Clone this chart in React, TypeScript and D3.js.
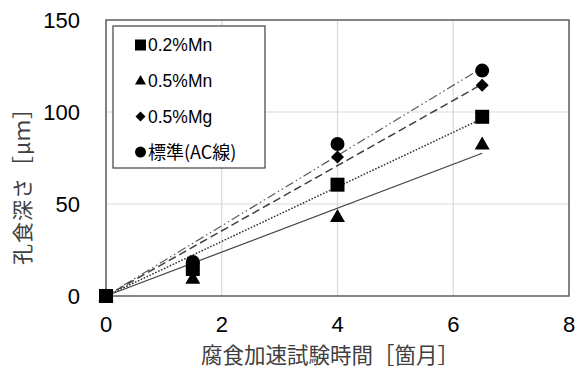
import React from "react";
import * as d3 from "d3";

const months = [0, 1.5, 4, 6.5];
const mn02 = [0, 14.7, 60.5, 97.4];
const mn05 = [0, 9.5, 43, 82.4];
const mg05 = [0, 17, 75.5, 114.5];
const standard = [0, 18.5, 82.6, 122.5];
const seriesNames = ["0.2%Mn", "0.5%Mn", "0.5%Mg", "標準(AC線)"];
const xTicks = [0, 2, 4, 6, 8];
const yTicks = [0, 50, 100, 150];
const xTitle = "腐食加速試験時間［箇月］";
const yTitle = "孔食深さ［μｍ］";

const W = 580, H = 376;
const L = 106, R = 569, T = 20, B = 296;

type Kind = "square" | "triangle" | "diamond" | "circle";

function markerPath(kind: Kind, s: number): string {
  if (kind === "square") return d3.symbol(d3.symbolSquare, s * s)()!;
  if (kind === "circle") return d3.symbol(d3.symbolCircle, Math.PI * (s / 2) * (s / 2))()!;
  if (kind === "triangle") {
    const h = s * 0.87;
    return `M0,${-h * 0.6}L${s / 2},${h * 0.4}L${-s / 2},${h * 0.4}Z`;
  }
  const r = s / 2;
  return `M0,${-r}L${r},0L0,${r}L${-r},0Z`;
}

function slopeThroughOrigin(xs: number[], ys: number[]) {
  let sxy = 0, sxx = 0;
  xs.forEach((x, i) => { sxy += x * ys[i]; sxx += x * x; });
  return sxy / sxx;
}

export default function App() {
  const x = d3.scaleLinear().domain([0, 8]).range([L, R]);
  const y = d3.scaleLinear().domain([0, 150]).range([B, T]);

  const series = [
    { name: seriesNames[0], values: mn02, kind: "square" as Kind, dash: "1.6,1.6", color: "#333", width: 1.5, ms: 14 },
    { name: seriesNames[1], values: mn05, kind: "triangle" as Kind, dash: "", color: "#404040", width: 1.2, ms: 15 },
    { name: seriesNames[2], values: mg05, kind: "diamond" as Kind, dash: "8,4", color: "#404040", width: 1.5, ms: 13 },
    { name: seriesNames[3], values: standard, kind: "circle" as Kind, dash: "9,3,1.5,3,1.5,3", color: "#5a5a5a", width: 1.2, ms: 14 },
  ];

  const xMax = d3.max(months)!;
  const line = d3.line<[number, number]>().x(d => x(d[0])).y(d => y(d[1]));

  const cjk = "'Noto Sans CJK JP', sans-serif";
  const latin = "'Liberation Sans', Arial, sans-serif";

  return (
    <div style={{ position: "fixed", left: 0, top: 0 }}>
      <svg width={W} height={H} style={{ display: "block", background: "#fff" }}>
        <rect x={0} y={0} width={W} height={H} fill="#fff" />
        {yTicks.map(t => (
          <line key={"gy" + t} x1={L} x2={R} y1={y(t)} y2={y(t)} stroke="#d9d9d9" strokeWidth={1.2} />
        ))}
        {xTicks.map(t => (
          <line key={"gx" + t} x1={x(t)} x2={x(t)} y1={T} y2={B} stroke="#d9d9d9" strokeWidth={1.2} />
        ))}
        <rect x={L} y={T} width={R - L} height={B - T} fill="none" stroke="#595959" strokeWidth={1.4} />

        {series.map(s => {
          const k = slopeThroughOrigin(months, s.values);
          return (
            <path key={"t" + s.name} d={line([[0, 0], [xMax, k * xMax]])!} fill="none"
              stroke={s.color} strokeWidth={s.width} strokeDasharray={s.dash || undefined} />
          );
        })}

        {series.map(s => (
          <g key={"m" + s.name}>
            {s.values.map((v, i) => (
              <path key={i} d={markerPath(s.kind, s.ms)} transform={`translate(${x(months[i])},${y(v)})`} fill="#000" />
            ))}
          </g>
        ))}

        {yTicks.map(t => (
          <text key={"yl" + t} x={80} y={y(t)} dy="0.36em" textAnchor="end" fontFamily={latin} fontSize={22} fill="#000">{t}</text>
        ))}
        {xTicks.map(t => (
          <text key={"xl" + t} x={x(t)} y={324} dy="0.36em" textAnchor="middle" fontFamily={latin} fontSize={22} fill="#000">{t}</text>
        ))}

        <text x={330} y={355} dy="0.36em" textAnchor="middle" fontFamily={cjk} fontSize={21.5} fill="#404040">{xTitle}</text>
        <text transform={`translate(22,181) rotate(-90)`} dy="0.36em" textAnchor="middle" fontFamily={cjk} fontSize={21} letterSpacing={1} fill="#404040">{yTitle}</text>

        <rect x={113} y={26} width={152} height={142} fill="#fff" stroke="#404040" strokeWidth={1.2} />
        {series.map((s, i) => {
          const cy = 45 + i * 35.7;
          return (
            <g key={"lg" + s.name}>
              <path d={markerPath(s.kind, s.kind === "diamond" ? 10 : 11)} transform={`translate(140.5,${cy})`} fill="#000" />
              <text x={148} y={cy} dy="0.36em" fontFamily={i === 3 ? cjk : latin} fontSize={i === 3 ? 18 : 17.5} fill="#000">{s.name}</text>
            </g>
          );
        })}
      </svg>
    </div>
  );
}
